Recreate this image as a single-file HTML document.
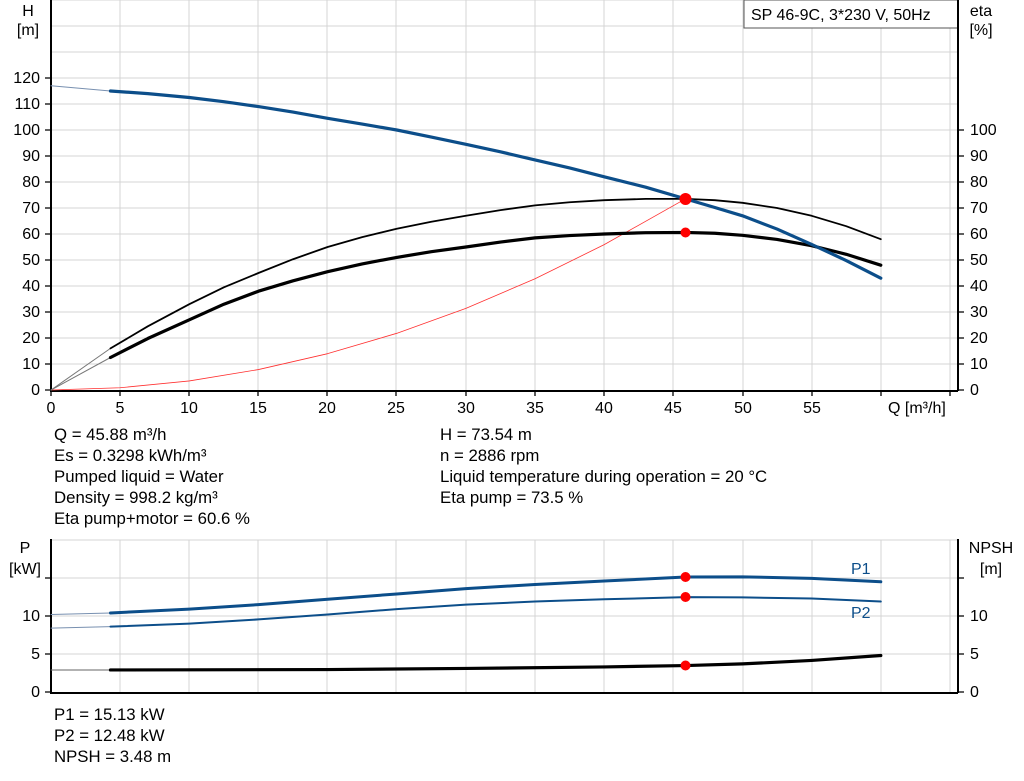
<!DOCTYPE html>
<html><head><meta charset="utf-8"><style>
body{margin:0;background:#fff;}
svg{display:block;font-family:"Liberation Sans",sans-serif;font-size:16px;}
path{fill:none}
.info{font-size:16.8px}
.ns{vector-effect:non-scaling-stroke;fill:none;stroke-linejoin:round;stroke-linecap:round}
</style></head><body>
<svg width="1024" height="781" viewBox="0 0 1024 781">
<g stroke="#d4d4d4" stroke-width="1">
<path d="M51 0H958M51 26H958M51 52H958M51 78H958M51 104H958M51 130H958M51 156H958M51 182H958M51 208H958M51 234H958M51 260H958M51 286H958M51 312H958M51 338H958M51 364H958"/>
<path d="M120 0V390M189 0V390M258 0V390M327 0V390M396 0V390M466 0V390M535 0V390M604 0V390M673 0V390M743 0V390M812 0V390M881 0V390M950 0V390"/>
</g>
<rect x="744" y="0" width="214" height="28" fill="#fff" stroke="#555"/>
<text x="751" y="20">SP 46-9C, 3*230 V, 50Hz</text>
<g stroke="#000" stroke-width="2"><path d="M51 0V391H958M958 0V391"/></g>
<g stroke="#000" stroke-width="1.3">
<path d="M45 390H51M45 364H51M45 338H51M45 312H51M45 286H51M45 260H51M45 234H51M45 208H51M45 182H51M45 156H51M45 130H51M45 104H51M45 78H51"/>
<path d="M958 390H964M958 364H964M958 338H964M958 312H964M958 286H964M958 260H964M958 234H964M958 208H964M958 182H964M958 156H964M958 130H964"/>
<path d="M51 390V396M120 390V396M189 390V396M258 390V396M327 390V396M396 390V396M466 390V396M535 390V396M604 390V396M673 390V396M743 390V396M812 390V396M881 390V396M950 390V396"/>
</g>
<g text-anchor="end">
<text x="40" y="395">0</text><text x="40" y="369">10</text><text x="40" y="343">20</text><text x="40" y="317">30</text><text x="40" y="291">40</text><text x="40" y="265">50</text><text x="40" y="239">60</text><text x="40" y="213">70</text><text x="40" y="187">80</text><text x="40" y="161">90</text><text x="40" y="135">100</text><text x="40" y="109">110</text><text x="40" y="83">120</text>
</g>
<g>
<text x="970" y="395">0</text><text x="970" y="369">10</text><text x="970" y="343">20</text><text x="970" y="317">30</text><text x="970" y="291">40</text><text x="970" y="265">50</text><text x="970" y="239">60</text><text x="970" y="213">70</text><text x="970" y="187">80</text><text x="970" y="161">90</text><text x="970" y="135">100</text>
</g>
<g text-anchor="middle">
<text x="51" y="413">0</text><text x="120" y="413">5</text><text x="189" y="413">10</text><text x="258" y="413">15</text><text x="327" y="413">20</text><text x="396" y="413">25</text><text x="466" y="413">30</text><text x="535" y="413">35</text><text x="604" y="413">40</text><text x="673" y="413">45</text><text x="743" y="413">50</text><text x="812" y="413">55</text>
<text x="28" y="16">H</text><text x="28" y="35">[m]</text>
<text x="981" y="16">eta</text><text x="981" y="35">[%]</text>
</g>
<text x="888" y="413">Q [m³/h]</text>
<g transform="translate(51,390) scale(13.83,-2.6)">
<polyline class="ns" stroke="#ff3030" stroke-width="0.8" points="0,0 5,0.87 10,3.49 15,7.86 20,13.97 25,21.8 30,31.4 35,42.8 40,55.9 45.88,73.54"/>
<polyline class="ns" stroke="#777" stroke-width="1" points="0,0 4.3,16"/>
<polyline class="ns" stroke="#777" stroke-width="1" points="0,0 4.3,12.5"/>
<polyline class="ns" stroke="#000" stroke-width="1.8" points="4.3,16 7,24.5 10,33 12.5,39.5 15,45 17.5,50.3 20,55 22.5,58.8 25,62 27.5,64.7 30,67 32.5,69.2 35,71 37.5,72.2 40,73 43,73.5 45.88,73.5 48,73 50,72 52.5,70 55,67 57.5,63 60,58"/>
<polyline class="ns" stroke="#000" stroke-width="3.2" points="4.3,12.5 7,19.8 10,27 12.5,33 15,38 17.5,42 20,45.5 22.5,48.5 25,51 27.5,53.2 30,55 32.5,56.9 35,58.5 37.5,59.4 40,60 43,60.5 45.88,60.6 48,60.3 50,59.5 52.5,57.9 55,55.5 57.5,52.2 60,48"/>
<polyline class="ns" stroke="#7890b0" stroke-width="1" points="0,117 4.3,115"/>
<polyline class="ns" stroke="#0c4e8a" stroke-width="3.2" points="4.3,115 7,114 10,112.5 12.5,110.9 15,109 17.5,106.9 20,104.5 22.5,102.3 25,100 27.5,97.3 30,94.5 32.5,91.6 35,88.5 37.5,85.4 40,82 43,78 45.88,73.5 48,70.2 50,67 52.5,61.9 55,56 57.5,49.8 60,43"/>
</g>
<circle cx="685.5" cy="199" r="6" fill="#f00"/>
<circle cx="685.5" cy="232.5" r="5" fill="#f00"/>
<g class="info">
<text x="54" y="440">Q = 45.88 m³/h</text><text x="54" y="461">Es = 0.3298 kWh/m³</text><text x="54" y="482">Pumped liquid = Water</text><text x="54" y="503">Density = 998.2 kg/m³</text><text x="54" y="524">Eta pump+motor = 60.6 %</text>
<text x="440" y="440">H = 73.54 m</text><text x="440" y="461">n = 2886 rpm</text><text x="440" y="482">Liquid temperature during operation = 20 °C</text><text x="440" y="503">Eta pump = 73.5 %</text>
</g>
<g stroke="#d4d4d4" stroke-width="1">
<path d="M51 540H958M51 578H958M51 616H958M51 654H958"/>
<path d="M120 540V692M189 540V692M258 540V692M327 540V692M396 540V692M466 540V692M535 540V692M604 540V692M673 540V692M743 540V692M812 540V692M881 540V692M950 540V692"/>
</g>
<g stroke="#000" stroke-width="2"><path d="M51 539V693H958M958 539V693"/></g>
<g stroke="#000" stroke-width="1.3">
<path d="M45 692H51M45 654H51M45 616H51M45 578H51M958 692H964M958 654H964M958 616H964M958 578H964"/>
</g>
<g text-anchor="end"><text x="40" y="697">0</text><text x="40" y="659">5</text><text x="40" y="621">10</text></g>
<g><text x="970" y="697">0</text><text x="970" y="659">5</text><text x="970" y="621">10</text></g>
<g text-anchor="middle"><text x="25" y="553">P</text><text x="25" y="574">[kW]</text><text x="991" y="553">NPSH</text><text x="991" y="574">[m]</text></g>
<g transform="translate(51,692) scale(13.83,-7.6)">
<polyline class="ns" stroke="#7890b0" stroke-width="1" points="0,10.2 4.3,10.4"/>
<polyline class="ns" stroke="#7890b0" stroke-width="1" points="0,8.4 4.3,8.6"/>
<polyline class="ns" stroke="#666" stroke-width="1" points="0,2.9 4.3,2.9"/>
<polyline class="ns" stroke="#0c4e8a" stroke-width="3" points="4.3,10.4 10,10.9 15,11.5 20,12.2 25,12.9 30,13.6 35,14.15 40,14.6 45.88,15.13 50,15.15 55,14.95 60,14.5"/>
<polyline class="ns" stroke="#0c4e8a" stroke-width="2" points="4.3,8.6 10,9.0 15,9.55 20,10.2 25,10.9 30,11.5 35,11.9 40,12.2 45.88,12.48 50,12.45 55,12.3 60,11.9"/>
<polyline class="ns" stroke="#000" stroke-width="3.2" points="4.3,2.9 20,2.95 30,3.1 40,3.3 45.88,3.48 50,3.7 55,4.15 60,4.8"/>
</g>
<circle cx="685.5" cy="577" r="5" fill="#f00"/>
<circle cx="685.5" cy="597" r="5" fill="#f00"/>
<circle cx="685.5" cy="665.5" r="5" fill="#f00"/>
<text x="851" y="574" fill="#0c4e8a">P1</text>
<text x="851" y="618" fill="#0c4e8a">P2</text>
<g class="info"><text x="54" y="720">P1 = 15.13 kW</text><text x="54" y="741">P2 = 12.48 kW</text><text x="54" y="762">NPSH = 3.48 m</text></g>
</svg>
</body></html>
